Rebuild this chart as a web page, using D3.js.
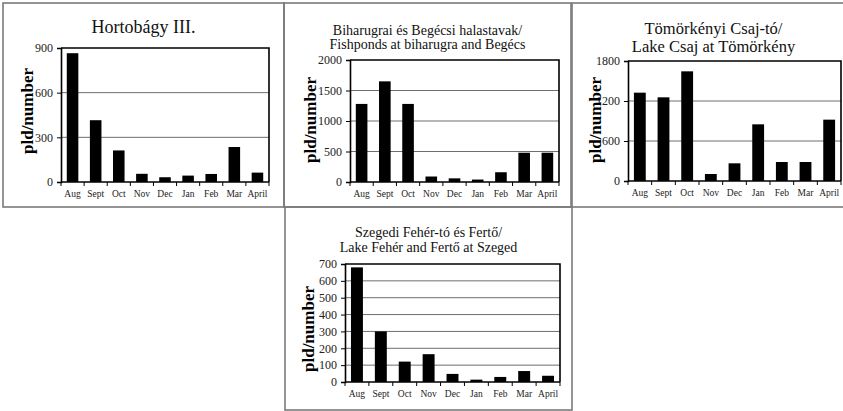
<!DOCTYPE html>
<html><head><meta charset="utf-8">
<script src="https://cdn.jsdelivr.net/npm/d3@7/dist/d3.min.js"></script>
<style>body{margin:0;background:#fff}svg{display:block}</style>
</head><body><svg id="c" width="843" height="411"></svg>
<script>
const months = ["Aug","Sept","Oct","Nov","Dec","Jan","Feb","Mar","April"];
const hortobagy = [865, 415, 212, 55, 32, 43, 54, 235, 63];
const biharugra = [1280, 1650, 1280, 90, 60, 40, 160, 480, 480];
const tomorkeny = [1325, 1255, 1645, 105, 265, 850, 285, 285, 920];
const szeged = [680, 300, 121, 165, 48, 14, 30, 65, 37];
const ticksHortobagy = [0, 300, 600, 900];
const ticksBiharugra = [0, 500, 1000, 1500, 2000];
const ticksTomorkeny = [0, 600, 1200, 1800];
const ticksSzeged = [0, 100, 200, 300, 400, 500, 600, 700];
const titleHortobagy = ["Hortobágy III."];
const titleBiharugra = ["Biharugrai és Begécsi halastavak/", "Fishponds at biharugra and Begécs"];
const titleTomorkeny = ["Tömörkényi Csaj-tó/", "Lake Csaj at Tömörkény"];
const titleSzeged = ["Szegedi Fehér-tó és Fertő/", "Lake Fehér and Fertő at Szeged"];
const yTitle = "pld/number";

const panels = [
  {values: hortobagy, ticks: ticksHortobagy, title: titleHortobagy,
   box: [3, 3, 284, 207], plot: [61, 269, 48, 182], tSize: 18, tBase: [33], yx: 27, yc: 111},
  {values: biharugra, ticks: ticksBiharugra, title: titleBiharugra,
   box: [284, 3, 571, 207], plot: [350, 559, 60, 182], tSize: 14, tBase: [35, 49], yx: 310, yc: 120},
  {values: tomorkeny, ticks: ticksTomorkeny, title: titleTomorkeny,
   box: [572, 3, 855, 207], plot: [628, 841, 61, 181], tSize: 16.5, tBase: [34, 52], yx: 595, yc: 120},
  {values: szeged, ticks: ticksSzeged, title: titleSzeged,
   box: [285, 207, 572, 410], plot: [345, 560, 264, 382], tSize: 14, tBase: [237, 252], yx: 308, yc: 329}
];

const svg = d3.select("#c");
const serif = "'Liberation Serif', 'Times New Roman', serif";

panels.forEach(p => {
  const g = svg.append("g");
  const [bx0, by0, bx1, by1] = p.box;
  g.append("rect").attr("x", bx0).attr("y", by0).attr("width", bx1 - bx0).attr("height", by1 - by0)
    .attr("fill", "none").attr("stroke", "#7a7a7a").attr("stroke-width", 1.6);

  const [x0, x1, y0, y1] = p.plot;
  const x = d3.scaleBand().domain(months).range([x0, x1]).paddingInner(0.5).paddingOuter(0.25);
  const y = d3.scaleLinear().domain([0, d3.max(p.ticks)]).range([y1, y0]);

  // gridlines
  g.append("g").selectAll("line").data(p.ticks.slice(1, -1)).join("line")
    .attr("x1", x0).attr("x2", x1).attr("y1", d => y(d)).attr("y2", d => y(d))
    .attr("stroke", "#6e6e6e").attr("stroke-width", 1);
  // frame top & right
  g.append("path").attr("d", `M${x0},${y(d3.max(p.ticks))}H${x1}V${y1}`)
    .attr("fill", "none").attr("stroke", "#000").attr("stroke-width", 1.6);

  // bars
  g.append("g").selectAll("rect").data(p.values).join("rect")
    .attr("x", (d, i) => x(months[i])).attr("width", x.bandwidth())
    .attr("y", d => y(d)).attr("height", d => y1 - y(d)).attr("fill", "#000");

  // y axis
  const ya = g.append("g").attr("transform", `translate(${x0},0)`)
    .call(d3.axisLeft(y).tickValues(p.ticks).tickSize(4).tickPadding(4).tickFormat(d3.format("d")));
  ya.select(".domain").attr("stroke", "#000").attr("stroke-width", 1.6);
  ya.selectAll(".tick line").attr("stroke", "#000");
  ya.selectAll("text").attr("font-family", serif).attr("font-size", 12).attr("fill", "#222");

  // x axis with ticks between categories
  const step = x.step();
  const bounds = d3.range(months.length + 1).map(i => x0 + i * (x1 - x0) / months.length);
  g.append("line").attr("x1", x0).attr("x2", x1).attr("y1", y1).attr("y2", y1)
    .attr("stroke", "#000").attr("stroke-width", 1.6);
  g.append("g").selectAll("line").data(bounds).join("line")
    .attr("x1", d => d).attr("x2", d => d).attr("y1", y1).attr("y2", y1 + 4)
    .attr("stroke", "#000");
  g.append("g").selectAll("text").data(months).join("text")
    .attr("x", d => x(d) + x.bandwidth() / 2).attr("y", y1 + 14.5)
    .attr("text-anchor", "middle").attr("font-family", serif).attr("font-size", 9.5)
    .attr("fill", "#222").text(d => d);

  // title
  const cx = (bx0 + bx1) / 2;
  p.title.forEach((t, i) => {
    g.append("text").attr("x", cx).attr("y", p.tBase[i]).attr("text-anchor", "middle")
      .attr("font-family", serif).attr("font-size", p.tSize).attr("fill", "#111").text(t);
  });

  // y title
  g.append("text").attr("transform", `translate(${p.yx},${p.yc}) rotate(-90)`)
    .attr("text-anchor", "middle").attr("dy", "0.35em")
    .attr("font-family", serif).attr("font-weight", "bold").attr("font-size", 17)
    .attr("fill", "#000").text(yTitle);
});
</script>
</body></html>
